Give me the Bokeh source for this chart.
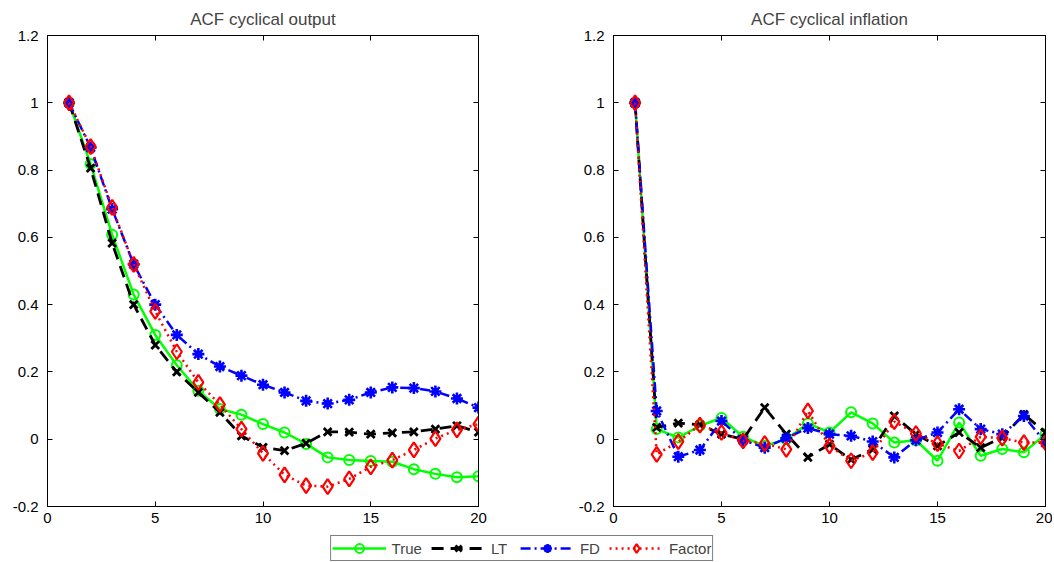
from bokeh.plotting import figure
from bokeh.models import (Range1d, FixedTicker, LinearAxis, Legend, LegendItem,
                          CustomJSTickFormatter)
from bokeh.layouts import column, row
from bokeh.embed import file_html
from bokeh.resources import INLINE

# ---------------- data ----------------
lags = list(range(1, 21))
x_ticks = [0, 5, 10, 15, 20]
y_ticks = [-0.2, 0, 0.2, 0.4, 0.6, 0.8, 1, 1.2]

titles = ["ACF cyclical output", "ACF cyclical inflation"]
labels = ["True", "LT", "FD", "Factor"]

out_true = [1.0, 0.818, 0.608, 0.43, 0.31, 0.22, 0.144, 0.09, 0.073, 0.045,
            0.020, -0.014, -0.054, -0.062, -0.065, -0.067, -0.089, -0.103, -0.113, -0.110]
out_lt = [1.0, 0.806, 0.583, 0.40, 0.28, 0.20, 0.139, 0.080, 0.010, -0.024,
          -0.034, -0.012, 0.022, 0.021, 0.015, 0.019, 0.022, 0.030, 0.040, 0.021]
out_fd = [1.0, 0.867, 0.684, 0.52, 0.40, 0.31, 0.253, 0.216, 0.189, 0.162,
          0.139, 0.114, 0.106, 0.117, 0.139, 0.154, 0.152, 0.142, 0.121, 0.094]
out_factor = [1.0, 0.870, 0.689, 0.52, 0.38, 0.26, 0.169, 0.103, 0.030, -0.042,
              -0.106, -0.138, -0.141, -0.118, -0.082, -0.062, -0.032, 0.002, 0.028, 0.045]

inf_true = [1.0, 0.030, 0.005, 0.040, 0.063, 0.007, -0.020, 0.0, 0.047, 0.020,
            0.080, 0.047, -0.010, -0.003, -0.064, 0.050, -0.049, -0.029, -0.039, 0.015]
inf_lt = [1.0, 0.035, 0.048, 0.043, 0.015, 0.0, 0.094, 0.015, -0.054, -0.015,
          -0.061, -0.030, 0.069, 0.015, -0.020, 0.020, -0.025, 0.005, 0.074, 0.020]
inf_fd = [1.0, 0.084, -0.052, -0.032, 0.054, -0.003, -0.025, 0.003, 0.033, 0.015,
          0.010, -0.007, -0.054, -0.003, 0.020, 0.089, 0.030, 0.015, 0.069, -0.010]
inf_factor = [1.0, -0.045, -0.007, 0.042, 0.020, -0.005, -0.013, -0.030, 0.084, -0.020,
              -0.064, -0.040, 0.052, 0.017, -0.013, -0.035, 0.007, 0.003, -0.010, -0.010]

# ---------------- styles ----------------
FONT = "Liberation Sans"
styles = [
    dict(color="#00ff00", dash="solid", marker="circle", size=10, lw=2.5, mlw=2),
    dict(color="#000000", dash="12 7", marker="x", size=11, lw=2.8, mlw=2.8),
    dict(color="#0000ff", dash="10 4 2 4", marker="asterisk", size=12, lw=2.5, mlw=2.6),
    dict(color="#ff0000", dash="2 4", marker="diamond", size=15, lw=2.5, mlw=2.2),
]

fmt = CustomJSTickFormatter(code="return String(Math.round(tick*10)/10);")
blank = CustomJSTickFormatter(code="return '';")


def make_plot(title, series, width, bl, br):
    p = figure(width=width, height=526, output_backend="svg", toolbar_location=None,
               x_range=Range1d(0, 20), y_range=Range1d(-0.2, 1.2),
               min_border_left=bl, min_border_right=br, min_border_top=35,
               min_border_bottom=20, background_fill_color="white",
               border_fill_color="white")
    p.title.text = title
    p.title.align = "center"
    p.title.text_font = FONT
    p.title.text_font_size = "17px"
    p.title.text_font_style = "normal"
    p.title.standoff = 13
    p.grid.visible = False
    p.outline_line_color = "black"
    for ax in p.axis:
        ax.major_tick_in = 5
        ax.major_tick_out = 0
        ax.minor_tick_line_color = None
        ax.axis_line_color = "black"
        ax.major_tick_line_color = "black"
        ax.major_label_text_font = FONT
        ax.major_label_text_font_size = "15px"
        ax.major_label_text_color = "black"
        ax.formatter = fmt
    p.xaxis.ticker = FixedTicker(ticks=x_ticks)
    p.yaxis.ticker = FixedTicker(ticks=y_ticks)
    p.xaxis.major_label_standoff = 6
    p.yaxis.major_label_standoff = 9
    top = LinearAxis(ticker=FixedTicker(ticks=x_ticks), formatter=blank,
                     major_label_text_font_size="1px", major_label_standoff=0,
                     major_tick_in=5, major_tick_out=0, minor_tick_line_color=None)
    right = LinearAxis(ticker=FixedTicker(ticks=y_ticks), formatter=blank,
                       major_label_text_font_size="1px", major_label_standoff=0,
                       major_tick_in=5, major_tick_out=0, minor_tick_line_color=None)
    p.add_layout(top, "above")
    p.add_layout(right, "right")
    for ys, st in zip(series, styles):
        p.line(lags, ys, line_color=st["color"], line_width=st["lw"], line_dash=st["dash"])
        p.scatter(lags, ys, marker=st["marker"], size=st["size"],
                  line_color=st["color"], line_width=st["mlw"], fill_color=None)
    return p


p1 = make_plot(titles[0], [out_true, out_lt, out_fd, out_factor], 528, 47, 50)
p2 = make_plot(titles[1], [inf_true, inf_lt, inf_fd, inf_factor], 524, 85, 7)

# ---------------- legend strip ----------------
p3 = figure(width=1052, height=36, output_backend="svg", toolbar_location=None,
            x_range=Range1d(0, 1), y_range=Range1d(0, 1),
            x_axis_location=None, y_axis_location=None,
            min_border_left=0, min_border_right=9, min_border_top=8, min_border_bottom=0)
p3.grid.visible = False
p3.outline_line_color = None
items = []
for lab, st in zip(labels, styles):
    lr = p3.line([-5, -4], [-5, -4], line_color=st["color"], line_width=st["lw"],
                 line_dash=st["dash"])
    sr = p3.scatter([-5], [-5], marker=st["marker"], size=st["size"],
                    line_color=st["color"], line_width=st["mlw"], fill_color=None)
    items.append(LegendItem(label=lab, renderers=[lr, sr]))
legend = Legend(items=items, orientation="horizontal", location="center",
                glyph_width=54, glyph_height=22, label_height=16, label_standoff=6,
                spacing=9, padding=1, margin=0,
                label_text_font=FONT, label_text_font_size="15px",
                border_line_color="black", border_line_width=1,
                background_fill_color="white")
p3.add_layout(legend)

layout = column(row(p1, p2), p3)

with open("out.html", "w") as f:
    f.write(file_html(layout, INLINE))
